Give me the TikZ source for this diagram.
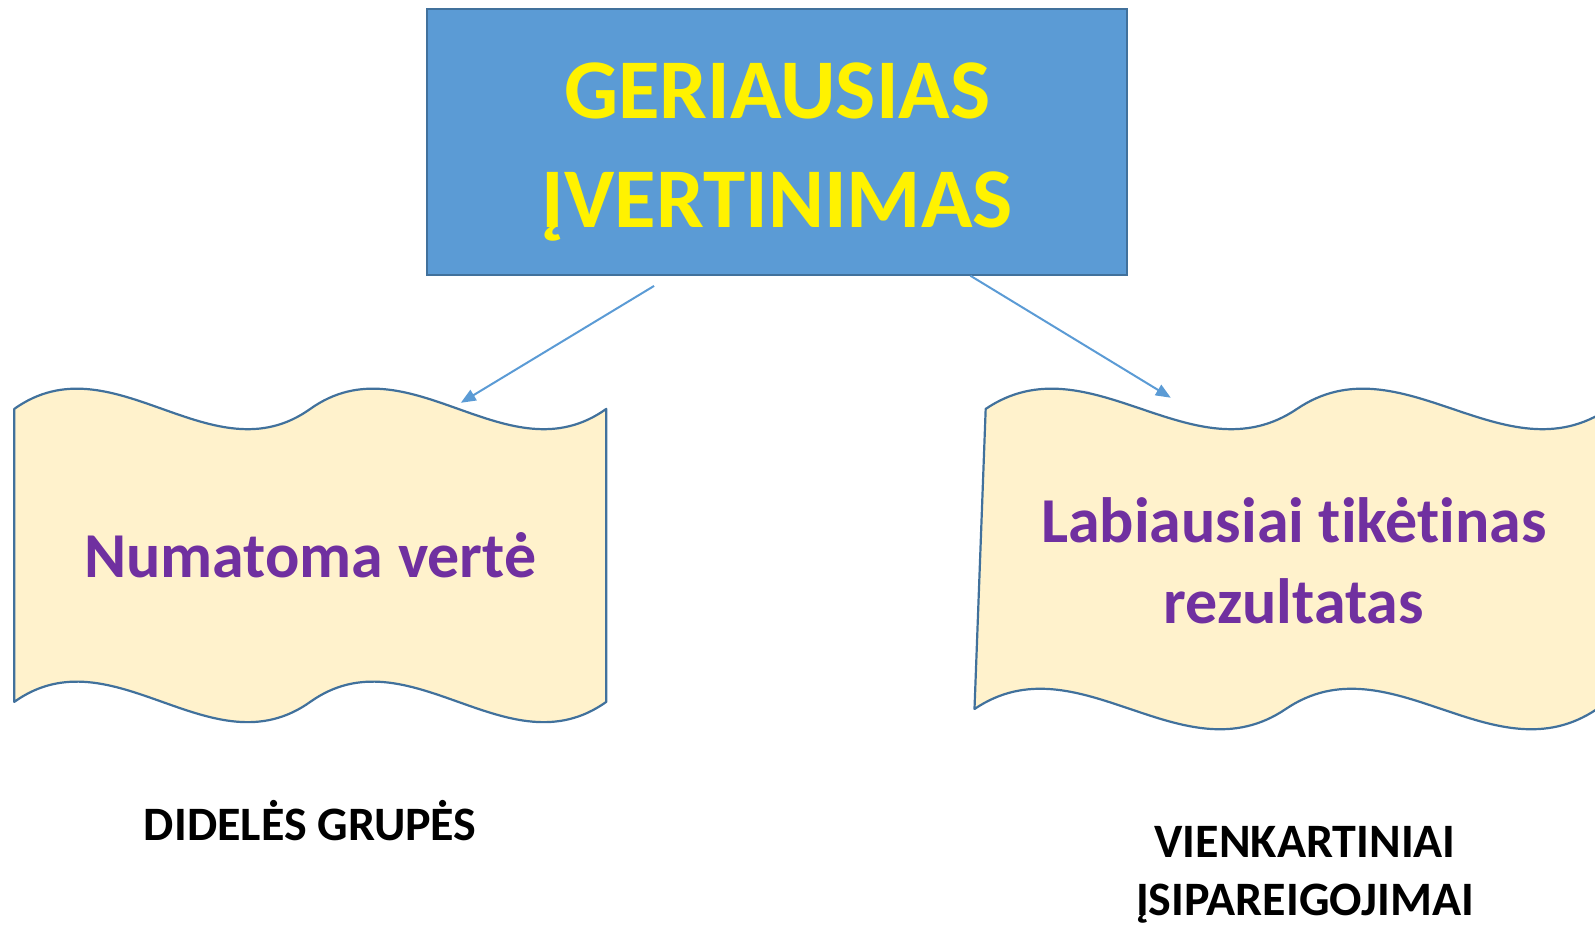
\documentclass[tikz,border=0pt]{standalone}
\usepackage{fontspec}
\setmainfont{Carlito}[Ligatures=NoCommon]
\usetikzlibrary{arrows.meta, positioning}
\newlength{\myUnit}
\setlength{\myUnit}{1.0172pt}
\newlength{\myRuleWidth}
\setlength{\myRuleWidth}{2.2pt}
\definecolor{myBlue}{HTML}{5B9BD5}
\definecolor{myEdge}{HTML}{41719C}
\definecolor{myCream}{HTML}{FFF2CC}
\definecolor{myPurple}{HTML}{7030A0}

\begin{document}
\begin{tikzpicture}[x=\myUnit, y=-\myUnit,
                    my title box/.style={
                      draw=myEdge, fill=myBlue, line width=\myRuleWidth,
                      minimum width=688\myUnit, minimum height=261\myUnit,
                      text=yellow, align=center, inner sep=0,
                      font=\bfseries\fontsize{85}{109}\selectfont},
                    my flag/.style={
                      draw=myEdge, fill=myCream, line width=\myRuleWidth,
                      line join=round},
                    my flag text/.style={
                      text=myPurple, align=center, inner sep=0,
                      font=\bfseries\fontsize{64}{81}\selectfont},
                    my note/.style={
                      text=black, align=center, inner sep=0,
                      font=\bfseries\fontsize{48}{58}\selectfont},
                    my arrow/.style={
                      -{Triangle[length=15pt, width=12pt]},
                      draw=myBlue, line width=2pt}]

\useasboundingbox (0,0) rectangle (1568,911.3);

% the strut pushes the two lines a little lower in the box
\node[my title box] (top) at (764,139.5)
  {\rule{0pt}{75pt}GERIAUSIAS\\ĮVERTINIMAS};

% left flag
\path[my flag]
  (14,402) .. controls +(97,-69) and +(-97,69) .. (305,402)
           .. controls +(97,-69) and +(-97,69) .. (596,402) --
  (596,690) .. controls +(-97,69) and +(97,-69) .. (305,690)
            .. controls +(-97,69) and +(97,-69) .. (14,690) -- cycle;
\coordinate (numTip) at (453,396);
\node[my flag text, anchor=base] (num) at (305,568) {Numatoma vertė};

% right flag, cut by the page
\begin{scope}
  \clip (0,0) rectangle (1568,911.3);
  \path[my flag]
    (969,402) .. controls +(102,-69) and +(-102,69) .. (1275,402)
              .. controls +(102,-69) and +(-102,69) .. (1581,402) --
    (1570,697) .. controls +(-102,69) and +(102,-69) .. (1264,697)
               .. controls +(-102,69) and +(102,-69) .. (958,697) -- cycle;
\end{scope}
\coordinate (labTip) at (1151,391);
\node[my flag text] (lab) at (1272,551) {Labiausiai tikėtinas\\rezultatas};

\draw[my arrow] ([xshift=-121\myUnit, yshift=-10\myUnit]top.south) -- (numTip);
\draw[my arrow] ([xshift=190\myUnit]top.south) -- (labTip);

\node[my note, anchor=base] (groups) at (305,826) {DIDELĖS GRUPĖS};
\node[my note] (oneoff) at (1283,860) {VIENKARTINIAI\\ĮSIPAREIGOJIMAI};
\end{tikzpicture}
\end{document}
